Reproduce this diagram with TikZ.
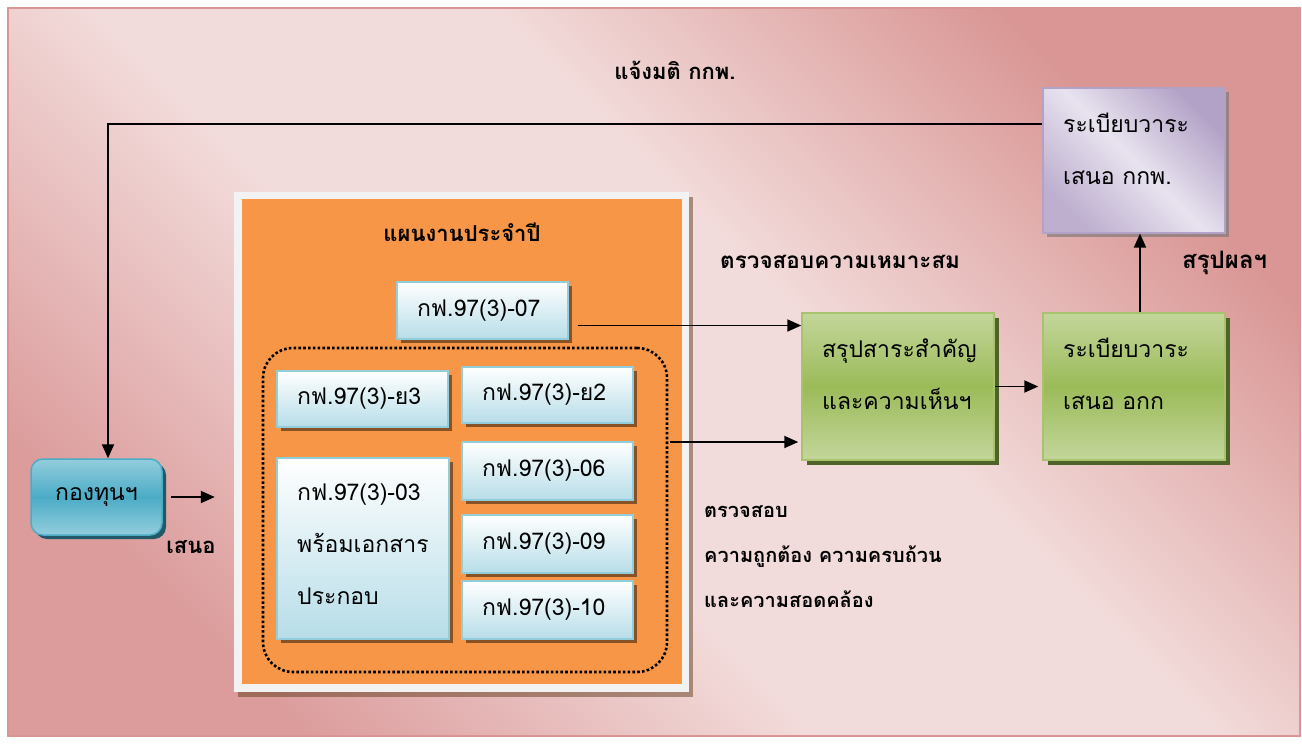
\documentclass[tikz,border=0pt]{standalone}
\usepackage{fontspec}
\setmainfont[Script=Thai]{Loma}
\usetikzlibrary{arrows.meta,shadows}
\definecolor{bgl}{HTML}{F2DCDB}
\definecolor{bgd}{HTML}{D99694}
\definecolor{bgm}{HTML}{DC9C9C}
\definecolor{orng}{HTML}{F79646}
\definecolor{frm}{HTML}{F2F2F2}
\definecolor{bluel}{HTML}{B7DDE8}
\definecolor{blueb}{HTML}{92CDDC}
\definecolor{grl}{HTML}{C3D69B}
\definecolor{grm}{HTML}{9BBB59}
\definecolor{grd}{HTML}{4F6228}
\definecolor{pul}{HTML}{E8E3EF}
\definecolor{pud}{HTML}{B3A2C7}
\definecolor{tealm}{HTML}{4BACC6}
\definecolor{teall}{HTML}{93CDDD}
\definecolor{teald}{HTML}{215968}
\pgfdeclareverticalshading{bgshade}{100bp}{color(0bp)=(bgm); color(25bp)=(bgm); color(43bp)=(bgl); color(57bp)=(bgl); color(75bp)=(bgd); color(100bp)=(bgd)}
\tikzset{
  bbox/.style={draw=blueb, line width=1.5pt, top color=white, bottom color=bluel,
    minimum width=171pt, minimum height=56pt, inner xsep=20pt, inner ysep=0pt,
    text width=131pt, align=left, font=\fontsize{23}{28}\selectfont,
    drop shadow={shadow xshift=4pt, shadow yshift=-4pt, fill=black, opacity=0.45}},
  gbox/.style={draw=grm!70!grl, line width=1.5pt, top color=grl, bottom color=grl, middle color=grm,
    minimum height=147pt, inner sep=0pt,
    drop shadow={shadow xshift=5pt, shadow yshift=-5pt, fill=grd, opacity=1}},
  pbox/.style={draw=pud, line width=1.2pt, top color=pud, bottom color=pud!80!pul, middle color=pul,
    shading angle=-45, minimum width=182pt, minimum height=145pt, inner sep=0pt,
    drop shadow={shadow xshift=4pt, shadow yshift=-4pt, fill=black!55, opacity=0.6}},
  inner/.style={align=left, font=\fontsize{23}{28}\selectfont, inner sep=0pt, anchor=west},
  lbl/.style={font=\bfseries\fontsize{22}{26}\selectfont, inner sep=0pt},
  arr/.style={line width=1.9pt, -{Triangle[length=14pt,width=12pt]}},
}
\begin{document}
\begin{tikzpicture}[x=1pt,y=-1pt]
\useasboundingbox (0,0) rectangle (1302,744);
\fill[white] (0,0) rectangle (1302,744);
\shade[shading=bgshade, shading angle=-45] (8,8) rectangle (1300,736);
\draw[bgd, line width=2pt] (8,8) rectangle (1300,736);

% plan frame
\node[fill=frm, minimum width=455pt, minimum height=500pt, inner sep=0pt,
  drop shadow={shadow xshift=4pt, shadow yshift=-5pt, fill=black!60!orng, opacity=0.5}] (frame) at (461.5,442) {};
\node[fill=orng, minimum width=440pt, minimum height=485pt, inner sep=0pt] (plan) at (462,441.5) {};
\node[lbl] (title) at (462,232) {แผนงานประจำปี};
\node[draw=black, line width=2.6pt, dash pattern=on 2.6pt off 2.2pt, rounded corners=30pt,
  minimum width=404pt, minimum height=324pt, inner sep=0pt] (dots) at (465,510) {};

% blue boxes
\node[bbox, minimum height=57pt] (b07) at (482.5,310.5) {กฟ.97(3)-07};
\node[bbox] (by3) at (362.5,399) {กฟ.97(3)-ย3};
\node[bbox] (by2) at (547.5,395) {กฟ.97(3)-ย2};
\node[bbox, minimum height=58pt] (b06) at (547.5,471) {กฟ.97(3)-06};
\node[bbox, minimum height=58pt] (b09) at (547.5,544) {กฟ.97(3)-09};
\node[bbox, minimum height=58pt] (b10) at (547.5,610) {กฟ.97(3)-10};
\node[bbox, minimum width=172pt, minimum height=181pt] (b03) at (363,548.5) {};
\node[inner] (b03t) at (297,544.5) {กฟ.97(3)-03\\[24pt]พร้อมเอกสาร\\[24pt]ประกอบ};

% fund
\node[draw=tealm, line width=1.5pt, rounded corners=12pt, top color=teall, bottom color=teall, middle color=tealm,
  minimum width=131pt, minimum height=76pt, inner sep=0pt, font=\fontsize{23}{28}\selectfont,
  drop shadow={shadow xshift=4pt, shadow yshift=-4pt, fill=teald, opacity=1}] (fund) at (96.5,497) {กองทุนฯ};
\node[lbl] (sano) at (191,547) {เสนอ};

% green boxes
\node[gbox, minimum width=192pt] (g1) at (898,386.5) {};
\node[inner] (g1t) at (822,374) {สรุปสาระสำคัญ\\[24pt]และความเห็นฯ};
\node[gbox, minimum width=182pt] (g2) at (1134,386.5) {};
\node[inner] (g2t) at (1063,374) {ระเบียบวาระ\\[24pt]เสนอ อกก};

% purple box
\node[pbox] (pu) at (1134,160.5) {};
\node[inner] (put) at (1063,148.5) {ระเบียบวาระ\\[24pt]เสนอ กกพ.};

% labels
\node[lbl] (notify) at (675,70) {แจ้งมติ กกพ.};
\node[lbl, anchor=west, font=\bfseries\fontsize{22.5}{26}\selectfont] (suit) at (720,262) {ตรวจสอบความเหมาะสม};
\node[lbl, anchor=west, font=\bfseries\fontsize{24}{26}\selectfont] (summ) at (1182,263) {สรุปผลฯ};
\node[lbl, anchor=west, align=left, font=\bfseries\fontsize{20}{24}\selectfont] (check) at (704,557) {ตรวจสอบ\\[21pt]ความถูกต้อง ความครบถ้วน\\[21pt]และความสอดคล้อง};

% connectors
\coordinate (tl) at (108,124);
\draw[arr] (pu.west |- tl) -- (tl) -- (tl |- fund.north);
\draw[arr] ([xshift=8pt]fund.east) -- ([xshift=-19pt]fund.east -| frame.west);
\draw[arr] ([xshift=9pt,yshift=-15pt]b07.east) -- ([yshift=-15pt]b07.east -| g1.west);
\draw[arr] ([xshift=2pt,yshift=68pt]dots.east) -- ([xshift=-3pt,yshift=68pt]dots.east -| g1.west);
\draw[arr] (g1.east) -- ([xshift=-4pt]g2.west);
\draw[arr] ([xshift=6pt]g2.north) -- ([xshift=6pt]pu.south);
\end{tikzpicture}
\end{document}
